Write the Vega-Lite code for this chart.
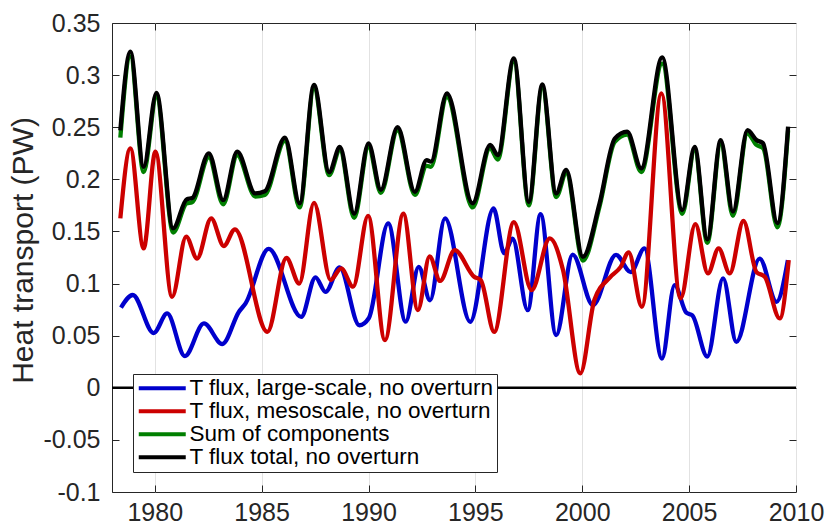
{
  "$schema": "https://vega.github.io/schema/vega-lite/v6.json",
  "width": 684,
  "height": 469,
  "autosize": {"type": "none"},
  "padding": {"left": 112, "top": 23, "right": 29, "bottom": 32},
  "config": {
    "view": {"stroke": "#262626", "strokeWidth": 1},
    "font": "Liberation Sans",
    "axis": {
      "domain": false,
      "grid": false,
      "tickColor": "#262626",
      "tickSize": -7,
      "tickWidth": 1,
      "labelColor": "#262626",
      "labelFont": "Liberation Sans",
      "labelFontSize": 25,
      "titleFont": "Liberation Sans",
      "titleColor": "#262626",
      "titleFontWeight": "normal"
    }
  },
  "layer": [
    {
      "data": {"values": [{}]},
      "mark": {"type": "rule", "stroke": "#000000", "strokeWidth": 2.5},
      "encoding": {
        "x": {
          "datum": 1978, "type": "quantitative",
          "scale": {"domain": [1978, 2010], "nice": false, "zero": false},
          "axis": {"orient": "top", "values": [1980, 1985, 1990, 1995, 2000, 2005], "labels": false, "title": null}
        },
        "x2": {"datum": 2010},
        "y": {
          "datum": 0, "type": "quantitative",
          "scale": {"domain": [-0.1, 0.35], "nice": false},
          "axis": {"orient": "right", "values": [-0.05, 0, 0.05, 0.1, 0.15, 0.2, 0.25, 0.3], "labels": false, "title": null}
        }
      }
    },
    {
      "data": {
        "values": [
          {"year": 1978.42, "value": 0.077, "series": "T flux, large-scale, no overturn"},
          {"year": 1978.97, "value": 0.089, "series": "T flux, large-scale, no overturn"},
          {"year": 1979.95, "value": 0.0525, "series": "T flux, large-scale, no overturn"},
          {"year": 1980.58, "value": 0.0713, "series": "T flux, large-scale, no overturn"},
          {"year": 1981.41, "value": 0.0304, "series": "T flux, large-scale, no overturn"},
          {"year": 1982.3, "value": 0.0617, "series": "T flux, large-scale, no overturn"},
          {"year": 1983.16, "value": 0.042, "series": "T flux, large-scale, no overturn"},
          {"year": 1983.94, "value": 0.073, "series": "T flux, large-scale, no overturn"},
          {"year": 1984.25, "value": 0.081, "series": "T flux, large-scale, no overturn"},
          {"year": 1985.33, "value": 0.1333, "series": "T flux, large-scale, no overturn"},
          {"year": 1986.85, "value": 0.068, "series": "T flux, large-scale, no overturn"},
          {"year": 1987.52, "value": 0.106, "series": "T flux, large-scale, no overturn"},
          {"year": 1987.99, "value": 0.092, "series": "T flux, large-scale, no overturn"},
          {"year": 1988.65, "value": 0.1155, "series": "T flux, large-scale, no overturn"},
          {"year": 1989.57, "value": 0.06, "series": "T flux, large-scale, no overturn"},
          {"year": 1990.02, "value": 0.067, "series": "T flux, large-scale, no overturn"},
          {"year": 1990.92, "value": 0.1577, "series": "T flux, large-scale, no overturn"},
          {"year": 1991.74, "value": 0.0634, "series": "T flux, large-scale, no overturn"},
          {"year": 1992.35, "value": 0.116, "series": "T flux, large-scale, no overturn"},
          {"year": 1992.88, "value": 0.084, "series": "T flux, large-scale, no overturn"},
          {"year": 1993.58, "value": 0.1626, "series": "T flux, large-scale, no overturn"},
          {"year": 1994.76, "value": 0.0633, "series": "T flux, large-scale, no overturn"},
          {"year": 1995.85, "value": 0.172, "series": "T flux, large-scale, no overturn"},
          {"year": 1996.35, "value": 0.129, "series": "T flux, large-scale, no overturn"},
          {"year": 1996.74, "value": 0.143, "series": "T flux, large-scale, no overturn"},
          {"year": 1997.45, "value": 0.0745, "series": "T flux, large-scale, no overturn"},
          {"year": 1998.05, "value": 0.1665, "series": "T flux, large-scale, no overturn"},
          {"year": 1998.78, "value": 0.0505, "series": "T flux, large-scale, no overturn"},
          {"year": 1999.55, "value": 0.1278, "series": "T flux, large-scale, no overturn"},
          {"year": 2000.5, "value": 0.0793, "series": "T flux, large-scale, no overturn"},
          {"year": 2001.58, "value": 0.1276, "series": "T flux, large-scale, no overturn"},
          {"year": 2002.27, "value": 0.111, "series": "T flux, large-scale, no overturn"},
          {"year": 2002.91, "value": 0.1337, "series": "T flux, large-scale, no overturn"},
          {"year": 2003.73, "value": 0.028, "series": "T flux, large-scale, no overturn"},
          {"year": 2004.32, "value": 0.0985, "series": "T flux, large-scale, no overturn"},
          {"year": 2004.87, "value": 0.072, "series": "T flux, large-scale, no overturn"},
          {"year": 2005.15, "value": 0.0695, "series": "T flux, large-scale, no overturn"},
          {"year": 2005.85, "value": 0.03, "series": "T flux, large-scale, no overturn"},
          {"year": 2006.59, "value": 0.105, "series": "T flux, large-scale, no overturn"},
          {"year": 2007.21, "value": 0.044, "series": "T flux, large-scale, no overturn"},
          {"year": 2008.3, "value": 0.124, "series": "T flux, large-scale, no overturn"},
          {"year": 2009.09, "value": 0.0825, "series": "T flux, large-scale, no overturn"},
          {"year": 2009.62, "value": 0.1225, "series": "T flux, large-scale, no overturn"},

          {"year": 1978.39, "value": 0.1625, "series": "T flux, mesoscale, no overturn"},
          {"year": 1978.86, "value": 0.2297, "series": "T flux, mesoscale, no overturn"},
          {"year": 1979.48, "value": 0.1337, "series": "T flux, mesoscale, no overturn"},
          {"year": 1980.03, "value": 0.2265, "series": "T flux, mesoscale, no overturn"},
          {"year": 1980.81, "value": 0.0873, "series": "T flux, mesoscale, no overturn"},
          {"year": 1981.47, "value": 0.145, "series": "T flux, mesoscale, no overturn"},
          {"year": 1981.98, "value": 0.124, "series": "T flux, mesoscale, no overturn"},
          {"year": 1982.64, "value": 0.1625, "series": "T flux, mesoscale, no overturn"},
          {"year": 1983.23, "value": 0.136, "series": "T flux, mesoscale, no overturn"},
          {"year": 1983.75, "value": 0.152, "series": "T flux, mesoscale, no overturn"},
          {"year": 1985.27, "value": 0.0537, "series": "T flux, mesoscale, no overturn"},
          {"year": 1986.16, "value": 0.1245, "series": "T flux, mesoscale, no overturn"},
          {"year": 1986.76, "value": 0.1, "series": "T flux, mesoscale, no overturn"},
          {"year": 1987.45, "value": 0.1775, "series": "T flux, mesoscale, no overturn"},
          {"year": 1988.23, "value": 0.1034, "series": "T flux, mesoscale, no overturn"},
          {"year": 1988.72, "value": 0.1146, "series": "T flux, mesoscale, no overturn"},
          {"year": 1989.28, "value": 0.097, "series": "T flux, mesoscale, no overturn"},
          {"year": 1989.98, "value": 0.165, "series": "T flux, mesoscale, no overturn"},
          {"year": 1990.77, "value": 0.0458, "series": "T flux, mesoscale, no overturn"},
          {"year": 1991.63, "value": 0.167, "series": "T flux, mesoscale, no overturn"},
          {"year": 1992.31, "value": 0.0746, "series": "T flux, mesoscale, no overturn"},
          {"year": 1992.86, "value": 0.126, "series": "T flux, mesoscale, no overturn"},
          {"year": 1993.35, "value": 0.1025, "series": "T flux, mesoscale, no overturn"},
          {"year": 1994.03, "value": 0.132, "series": "T flux, mesoscale, no overturn"},
          {"year": 1994.94, "value": 0.1066, "series": "T flux, mesoscale, no overturn"},
          {"year": 1995.26, "value": 0.103, "series": "T flux, mesoscale, no overturn"},
          {"year": 1995.88, "value": 0.0537, "series": "T flux, mesoscale, no overturn"},
          {"year": 1996.8, "value": 0.159, "series": "T flux, mesoscale, no overturn"},
          {"year": 1997.63, "value": 0.0937, "series": "T flux, mesoscale, no overturn"},
          {"year": 1998.48, "value": 0.1433, "series": "T flux, mesoscale, no overturn"},
          {"year": 1999.1, "value": 0.113, "series": "T flux, mesoscale, no overturn"},
          {"year": 1999.91, "value": 0.0138, "series": "T flux, mesoscale, no overturn"},
          {"year": 2000.57, "value": 0.0845, "series": "T flux, mesoscale, no overturn"},
          {"year": 2001.3, "value": 0.106, "series": "T flux, mesoscale, no overturn"},
          {"year": 2001.8, "value": 0.116, "series": "T flux, mesoscale, no overturn"},
          {"year": 2002.17, "value": 0.13, "series": "T flux, mesoscale, no overturn"},
          {"year": 2002.79, "value": 0.0777, "series": "T flux, mesoscale, no overturn"},
          {"year": 2003.7, "value": 0.2825, "series": "T flux, mesoscale, no overturn"},
          {"year": 2004.6, "value": 0.0857, "series": "T flux, mesoscale, no overturn"},
          {"year": 2005.29, "value": 0.157, "series": "T flux, mesoscale, no overturn"},
          {"year": 2005.88, "value": 0.1097, "series": "T flux, mesoscale, no overturn"},
          {"year": 2006.38, "value": 0.1337, "series": "T flux, mesoscale, no overturn"},
          {"year": 2006.9, "value": 0.1097, "series": "T flux, mesoscale, no overturn"},
          {"year": 2007.54, "value": 0.16, "series": "T flux, mesoscale, no overturn"},
          {"year": 2008.15, "value": 0.111, "series": "T flux, mesoscale, no overturn"},
          {"year": 2008.54, "value": 0.1065, "series": "T flux, mesoscale, no overturn"},
          {"year": 2009.24, "value": 0.0665, "series": "T flux, mesoscale, no overturn"},
          {"year": 2009.66, "value": 0.1225, "series": "T flux, mesoscale, no overturn"},

          {"year": 1978.39, "value": 0.24, "series": "Sum of components"},
          {"year": 1978.86, "value": 0.318, "series": "Sum of components"},
          {"year": 1979.48, "value": 0.207, "series": "Sum of components"},
          {"year": 1980.08, "value": 0.279, "series": "Sum of components"},
          {"year": 1980.86, "value": 0.149, "series": "Sum of components"},
          {"year": 1981.5, "value": 0.177, "series": "Sum of components"},
          {"year": 1981.75, "value": 0.178, "series": "Sum of components"},
          {"year": 1982.53, "value": 0.221, "series": "Sum of components"},
          {"year": 1983.2, "value": 0.176, "series": "Sum of components"},
          {"year": 1983.86, "value": 0.223, "series": "Sum of components"},
          {"year": 1984.7, "value": 0.1835, "series": "Sum of components"},
          {"year": 1985.15, "value": 0.185, "series": "Sum of components"},
          {"year": 1986.09, "value": 0.237, "series": "Sum of components"},
          {"year": 1986.78, "value": 0.173, "series": "Sum of components"},
          {"year": 1987.45, "value": 0.287, "series": "Sum of components"},
          {"year": 1988.16, "value": 0.204, "series": "Sum of components"},
          {"year": 1988.66, "value": 0.228, "series": "Sum of components"},
          {"year": 1989.33, "value": 0.163, "series": "Sum of components"},
          {"year": 1990.0, "value": 0.231, "series": "Sum of components"},
          {"year": 1990.58, "value": 0.187, "series": "Sum of components"},
          {"year": 1991.36, "value": 0.247, "series": "Sum of components"},
          {"year": 1992.17, "value": 0.185, "series": "Sum of components"},
          {"year": 1992.72, "value": 0.213, "series": "Sum of components"},
          {"year": 1992.92, "value": 0.212, "series": "Sum of components"},
          {"year": 1993.67, "value": 0.279, "series": "Sum of components"},
          {"year": 1994.87, "value": 0.173, "series": "Sum of components"},
          {"year": 1995.69, "value": 0.23, "series": "Sum of components"},
          {"year": 1996.05, "value": 0.219, "series": "Sum of components"},
          {"year": 1996.8, "value": 0.313, "series": "Sum of components"},
          {"year": 1997.5, "value": 0.175, "series": "Sum of components"},
          {"year": 1998.13, "value": 0.288, "series": "Sum of components"},
          {"year": 1998.78, "value": 0.183, "series": "Sum of components"},
          {"year": 1999.25, "value": 0.206, "series": "Sum of components"},
          {"year": 2000.03, "value": 0.122, "series": "Sum of components"},
          {"year": 2000.81, "value": 0.174, "series": "Sum of components"},
          {"year": 2001.52, "value": 0.236, "series": "Sum of components"},
          {"year": 2002.1, "value": 0.243, "series": "Sum of components"},
          {"year": 2002.76, "value": 0.207, "series": "Sum of components"},
          {"year": 2003.74, "value": 0.311, "series": "Sum of components"},
          {"year": 2004.68, "value": 0.167, "series": "Sum of components"},
          {"year": 2005.26, "value": 0.228, "series": "Sum of components"},
          {"year": 2005.85, "value": 0.139, "series": "Sum of components"},
          {"year": 2006.48, "value": 0.234, "series": "Sum of components"},
          {"year": 2007.05, "value": 0.165, "series": "Sum of components"},
          {"year": 2007.73, "value": 0.244, "series": "Sum of components"},
          {"year": 2008.15, "value": 0.233, "series": "Sum of components"},
          {"year": 2008.46, "value": 0.23, "series": "Sum of components"},
          {"year": 2009.13, "value": 0.154, "series": "Sum of components"},
          {"year": 2009.63, "value": 0.247, "series": "Sum of components"},

          {"year": 1978.39, "value": 0.247, "series": "T flux total, no overturn"},
          {"year": 1978.86, "value": 0.3225, "series": "T flux total, no overturn"},
          {"year": 1979.48, "value": 0.212, "series": "T flux total, no overturn"},
          {"year": 1980.08, "value": 0.283, "series": "T flux total, no overturn"},
          {"year": 1980.86, "value": 0.153, "series": "T flux total, no overturn"},
          {"year": 1981.5, "value": 0.181, "series": "T flux total, no overturn"},
          {"year": 1981.75, "value": 0.182, "series": "T flux total, no overturn"},
          {"year": 1982.53, "value": 0.225, "series": "T flux total, no overturn"},
          {"year": 1983.2, "value": 0.18, "series": "T flux total, no overturn"},
          {"year": 1983.86, "value": 0.2265, "series": "T flux total, no overturn"},
          {"year": 1984.7, "value": 0.1865, "series": "T flux total, no overturn"},
          {"year": 1985.15, "value": 0.1885, "series": "T flux total, no overturn"},
          {"year": 1986.09, "value": 0.24, "series": "T flux total, no overturn"},
          {"year": 1986.78, "value": 0.177, "series": "T flux total, no overturn"},
          {"year": 1987.45, "value": 0.2905, "series": "T flux total, no overturn"},
          {"year": 1988.16, "value": 0.207, "series": "T flux total, no overturn"},
          {"year": 1988.66, "value": 0.231, "series": "T flux total, no overturn"},
          {"year": 1989.33, "value": 0.167, "series": "T flux total, no overturn"},
          {"year": 1990.0, "value": 0.2345, "series": "T flux total, no overturn"},
          {"year": 1990.58, "value": 0.19, "series": "T flux total, no overturn"},
          {"year": 1991.36, "value": 0.25, "series": "T flux total, no overturn"},
          {"year": 1992.17, "value": 0.188, "series": "T flux total, no overturn"},
          {"year": 1992.72, "value": 0.2185, "series": "T flux total, no overturn"},
          {"year": 1992.92, "value": 0.217, "series": "T flux total, no overturn"},
          {"year": 1993.67, "value": 0.2825, "series": "T flux total, no overturn"},
          {"year": 1994.87, "value": 0.177, "series": "T flux total, no overturn"},
          {"year": 1995.69, "value": 0.233, "series": "T flux total, no overturn"},
          {"year": 1996.05, "value": 0.2233, "series": "T flux total, no overturn"},
          {"year": 1996.8, "value": 0.316, "series": "T flux total, no overturn"},
          {"year": 1997.5, "value": 0.1785, "series": "T flux total, no overturn"},
          {"year": 1998.13, "value": 0.291, "series": "T flux total, no overturn"},
          {"year": 1998.78, "value": 0.1865, "series": "T flux total, no overturn"},
          {"year": 1999.25, "value": 0.209, "series": "T flux total, no overturn"},
          {"year": 2000.03, "value": 0.1257, "series": "T flux total, no overturn"},
          {"year": 2000.81, "value": 0.177, "series": "T flux total, no overturn"},
          {"year": 2001.52, "value": 0.239, "series": "T flux total, no overturn"},
          {"year": 2002.1, "value": 0.2457, "series": "T flux total, no overturn"},
          {"year": 2002.76, "value": 0.2105, "series": "T flux total, no overturn"},
          {"year": 2003.74, "value": 0.317, "series": "T flux total, no overturn"},
          {"year": 2004.68, "value": 0.1705, "series": "T flux total, no overturn"},
          {"year": 2005.26, "value": 0.231, "series": "T flux total, no overturn"},
          {"year": 2005.85, "value": 0.1424, "series": "T flux total, no overturn"},
          {"year": 2006.48, "value": 0.2377, "series": "T flux total, no overturn"},
          {"year": 2007.05, "value": 0.169, "series": "T flux total, no overturn"},
          {"year": 2007.73, "value": 0.2473, "series": "T flux total, no overturn"},
          {"year": 2008.15, "value": 0.2377, "series": "T flux total, no overturn"},
          {"year": 2008.46, "value": 0.2345, "series": "T flux total, no overturn"},
          {"year": 2009.13, "value": 0.158, "series": "T flux total, no overturn"},
          {"year": 2009.63, "value": 0.2505, "series": "T flux total, no overturn"}
        ]
      },
      "mark": {"type": "line", "interpolate": "monotone", "strokeWidth": 4.3, "strokeCap": "butt"},
      "encoding": {
        "x": {
          "field": "year", "type": "quantitative",
          "axis": {
            "orient": "bottom", "values": [1980, 1985, 1990, 1995, 2000, 2005, 2010], "format": "d",
            "grid": true, "gridColor": "#e2e2e2", "gridWidth": 1,
            "labelPadding": 15, "labelFlush": false, "labelOverlap": false, "title": null
          }
        },
        "y": {
          "field": "value", "type": "quantitative",
          "axis": {
            "orient": "left", "values": [-0.1, -0.05, 0, 0.05, 0.1, 0.15, 0.2, 0.25, 0.3, 0.35],
            "labelExpr": "'' + datum.value", "labelPadding": 19, "labelFlush": false, "labelOverlap": false,
            "title": "Heat transport (PW)", "titleFontSize": 30, "titleX": -80, "titleY": 227,
            "titleAngle": 270, "titleAlign": "center", "titleBaseline": "alphabetic"
          }
        },
        "color": {
          "field": "series", "type": "nominal",
          "scale": {
            "domain": ["T flux, large-scale, no overturn", "T flux, mesoscale, no overturn", "Sum of components", "T flux total, no overturn"],
            "range": ["#0000cc", "#cc0000", "#007f00", "#000000"]
          },
          "legend": {
            "orient": "none", "legendX": 21, "legendY": 351, "title": null,
            "fillColor": "white", "strokeColor": "#262626", "padding": 3, "cornerRadius": 0,
            "symbolType": "M-4,0H4", "symbolSize": 138, "symbolStrokeWidth": 4, "symbolOffset": 15,
            "labelOffset": 16, "labelFontSize": 22.5, "labelFont": "Liberation Sans", "labelColor": "#000000",
            "labelLimit": 500, "rowPadding": 0
          }
        }
      }
    }
  ],
  "resolve": {"axis": {"x": "independent", "y": "independent"}}
}
